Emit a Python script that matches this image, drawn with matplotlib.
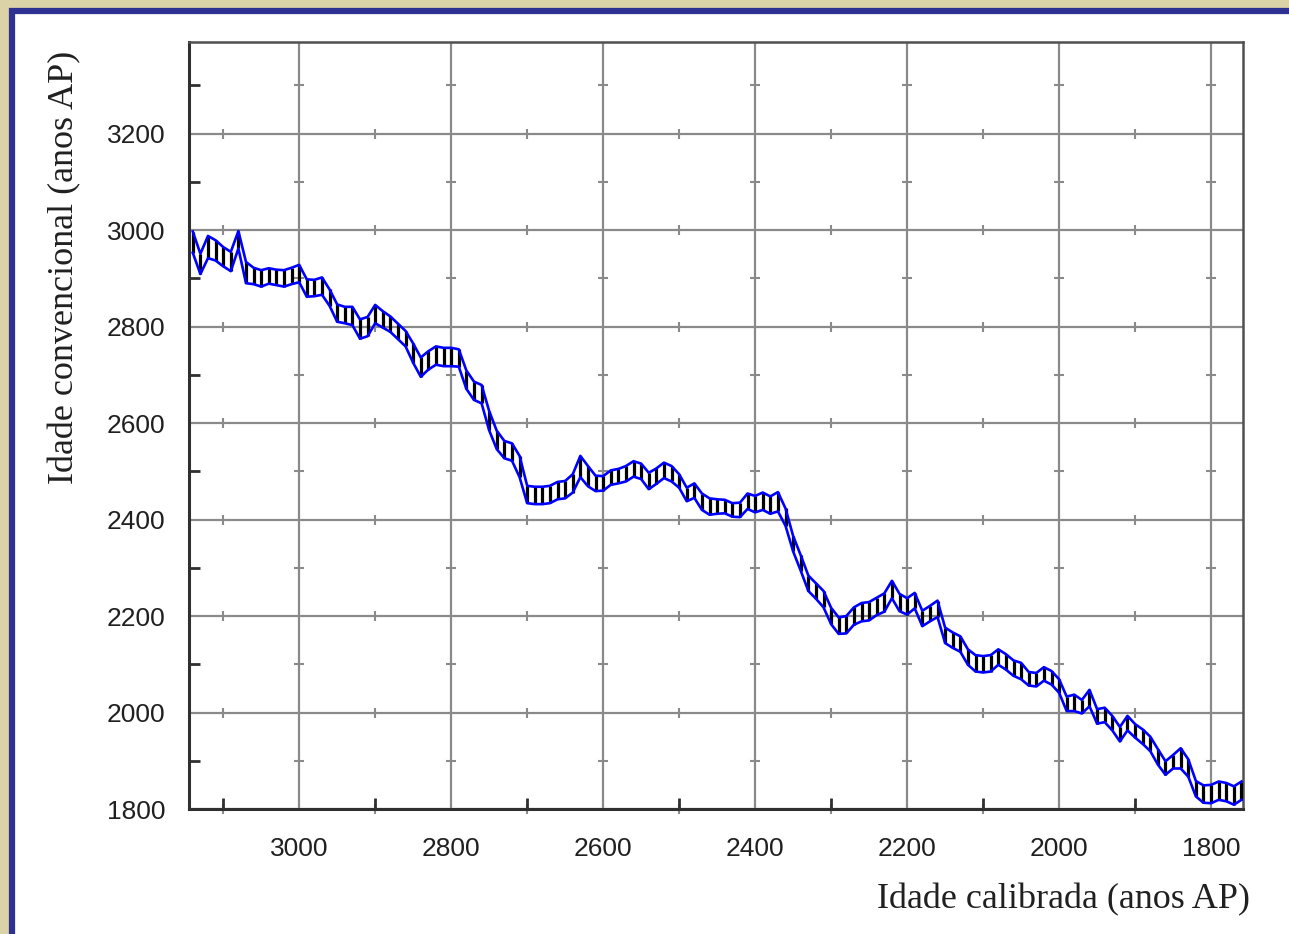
import numpy as np
import matplotlib
matplotlib.use("Agg")
import matplotlib.pyplot as plt
from matplotlib.patches import Rectangle

# calibrated age grid (cal BP), decadal
cal_age = np.arange(3140, 1750, -10)

# conventional radiocarbon age (BP), centre of the band
c14_mid = [
    2975, 2930, 2965, 2958, 2945, 2935, 2980, 2912, 2905, 2900, 2905, 2902, 2900, 2905, 2910,
    2880, 2880, 2884, 2860, 2828, 2824, 2822, 2795, 2800, 2826,
    2815, 2805, 2790, 2775, 2745, 2716, 2730, 2740, 2737, 2737,
    2735, 2690, 2667, 2660, 2605, 2565, 2545, 2540, 2510, 2452,
    2450, 2450, 2452, 2460, 2462, 2475, 2510, 2490, 2475, 2475,
    2487, 2490, 2495, 2505, 2500, 2480, 2490, 2502, 2495, 2480,
    2452, 2460, 2437, 2427, 2427, 2427, 2420, 2420, 2438, 2432,
    2438, 2430, 2437, 2405, 2350, 2310, 2268, 2252, 2235, 2200,
    2180, 2182, 2200, 2208, 2210, 2220, 2228, 2255, 2228, 2220,
    2232, 2195, 2205, 2215, 2160, 2150, 2142, 2115, 2102, 2100,
    2102, 2115, 2105, 2092, 2086, 2070, 2068, 2080, 2072, 2055,
    2018, 2020, 2012, 2030, 1992, 1995, 1978, 1955, 1978, 1962,
    1950, 1935, 1908, 1885, 1898, 1905, 1885, 1842, 1831, 1831,
    1838, 1835, 1828, 1838,
]

# half width of the band (1 sigma)
c14_err = [
    22, 21, 23, 21, 20, 20, 18, 22, 17, 17, 16, 16, 17, 17, 18,
    18, 17, 18, 17, 18, 17, 19, 20, 20, 19,
    17, 16, 16, 16, 20, 20, 19, 19, 19, 19,
    18, 19, 19, 19, 20, 19, 18, 18, 22, 18,
    18, 18, 18, 18, 18, 19, 22, 21, 16, 15,
    15, 15, 16, 16, 16, 17, 16, 16, 16, 14,
    14, 15, 17, 17, 15, 14, 14, 15, 16, 17,
    18, 18, 20, 18, 16, 16, 16, 16, 17, 17,
    17, 18, 18, 19, 19, 18, 19, 18, 18, 17,
    16, 16, 16, 17, 16, 16, 16, 16, 17, 17,
    17, 16, 16, 16, 17, 14, 14, 14, 14, 14,
    15, 17, 14, 17, 15, 15, 15, 15, 15, 14,
    15, 15, 16, 14, 14, 21, 18, 16, 18, 19,
    19, 19, 19, 19,
]

x_major = [3000, 2800, 2600, 2400, 2200, 2000, 1800]
x_minor = [3100, 2900, 2700, 2500, 2300, 2100, 1900]
y_major = [1800, 2000, 2200, 2400, 2600, 2800, 3000, 3200]
y_minor = [1900, 2100, 2300, 2500, 2700, 2900, 3100, 3300]

mid = np.array(c14_mid, dtype=float)
err = np.array(c14_err, dtype=float)
upper = mid + err
lower = mid - err

fig = plt.figure(figsize=(12.89, 9.34), dpi=100)
fig.patch.set_facecolor("#dcd2a8")

# white panel with blue frame (behind the axes)
frame = Rectangle((12 / 1289, -0.02), 1.1, 1.0 - 11 / 934 + 0.02, transform=fig.transFigure,
                  facecolor="white", edgecolor="#2f3192", linewidth=4.5, zorder=-5)
fig.patches.append(frame)

ax = fig.add_axes([189 / 1289, 125 / 934, 1054 / 1289, 767 / 934])
ax.set_zorder(2)
ax.set_facecolor("white")

ax.set_xlim(3145, 1758)
ax.set_ylim(1800, 3390)

# grid on major values
for xv in x_major:
    ax.axvline(xv, color="#8a8a8a", lw=1.6, zorder=1)
for yv in y_major:
    ax.axhline(yv, color="#8a8a8a", lw=1.6, zorder=1)

# little crosses where minor positions meet the grid lines
gx, gy = np.meshgrid(x_minor, y_major)
ax.scatter(gx.ravel(), gy.ravel(), marker="|", s=50, color="#8a8a8a", linewidths=1.5, zorder=1, clip_on=False)
hx, hy = np.meshgrid(x_major, y_minor)
ax.scatter(hx.ravel(), hy.ravel(), marker="_", s=50, color="#8a8a8a", linewidths=1.5, zorder=1, clip_on=False)

# calibration band
ax.vlines(cal_age, lower, upper, colors="black", lw=2.3, zorder=3)
ax.plot(cal_age, upper, color="#0000ff", lw=1.9, zorder=4)
ax.plot(cal_age, lower, color="#0000ff", lw=1.9, zorder=4)

ax.set_xticks(x_major)
ax.set_yticks(y_major)
ax.set_xticks(x_minor, minor=True)
ax.set_yticks(y_minor, minor=True)
ax.tick_params(which="major", length=0, labelsize=19)
ax.tick_params(axis="x", which="major", pad=20)
ax.tick_params(axis="y", which="major", pad=17)
ax.tick_params(which="minor", direction="in", length=8, width=2, color="#303030")
for lab in ax.get_xticklabels() + ax.get_yticklabels():
    lab.set_family("Liberation Sans")
    lab.set_color("#202020")

for side in ["left", "bottom"]:
    ax.spines[side].set_color("#303030")
    ax.spines[side].set_linewidth(2.2)
for side in ["top", "right"]:
    ax.spines[side].set_color("#505050")
    ax.spines[side].set_linewidth(1.8)

fig.text(1250 / 1289, 1 - 900 / 934, "Idade calibrada (anos AP)", ha="right", va="center",
         family="Liberation Serif", fontsize=26, color="#202020")
fig.text(65 / 1289, 1 - 267 / 934, "Idade convencional (anos AP)", ha="center", va="center",
         rotation=90, family="Liberation Serif", fontsize=26, color="#202020")

fig.savefig("out.png", dpi=100, facecolor=fig.get_facecolor())
